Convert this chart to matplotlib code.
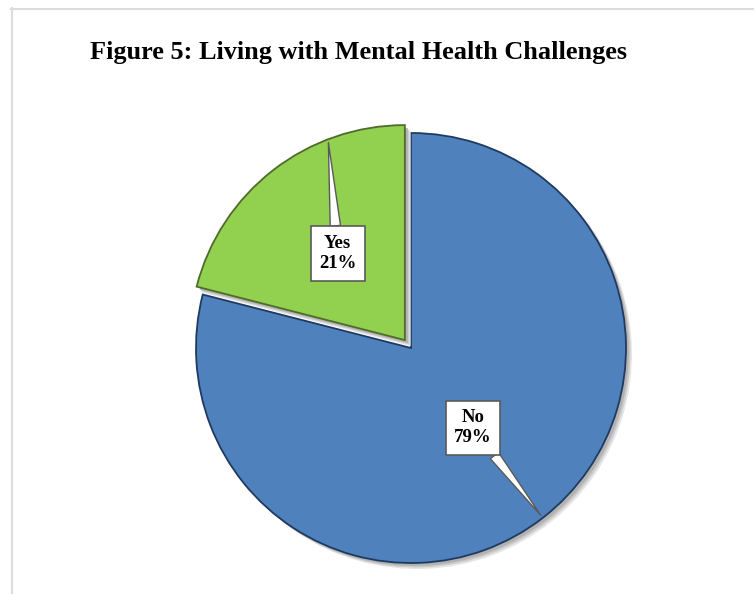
import matplotlib
matplotlib.use('Agg')
import matplotlib.pyplot as plt
import numpy as np
from matplotlib.patches import Wedge
from matplotlib.lines import Line2D

title = "Figure 5: Living with Mental Health Challenges"
categories = ["Yes", "No"]
values = [21, 79]
colors = ["#92d050", "#4f81bd"]
edge_colors = ["#4f6b2a", "#1f3a60"]

W, H = 754, 594
fig = plt.figure(figsize=(W / 100, H / 100), dpi=100)
ax = fig.add_axes([0, 0, 1, 1])

cx, cy, R = 411, H - 348, 215
explode = [10, 0]
wedges, _ = ax.pie(values, colors=colors, startangle=90, counterclock=True,
                   explode=explode, center=(cx, cy), radius=R, frame=True,
                   wedgeprops=dict(linewidth=1.3))
zs = [3, 2]
for w, ec, z in zip(wedges, edge_colors, zs):
    w.set_edgecolor(ec)
    w.set_zorder(z)
    # soft shadow
    for k, (off, col, a) in enumerate([(6, '#e0e0e0', 0.8), (4.5, '#c8c8c8', 0.85), (3, '#b0b0b0', 0.9)]):
        s = Wedge((w.center[0] + off, w.center[1] - off), w.r, w.theta1, w.theta2,
                  facecolor=col, edgecolor='none', alpha=a, zorder=z - 0.6 + 0.1 * k)
        ax.add_patch(s)

ax.set_xlim(0, W)
ax.set_ylim(0, H)
ax.set_aspect('auto')
ax.axis('off')

serif = ['Liberation Serif', 'DejaVu Serif']
label_frac = [0.51, 0.47]
tip_frac = [0.28, 0.5]
for w, cat, v, lf, tf in zip(wedges, categories, values, label_frac, tip_frac):
    tm = np.deg2rad((w.theta1 + w.theta2) / 2)
    tt = np.deg2rad(w.theta1 + tf * (w.theta2 - w.theta1))
    xt = (w.center[0] + lf * w.r * np.cos(tm), w.center[1] + lf * w.r * np.sin(tm))
    xy = (w.center[0] + 0.985 * w.r * np.cos(tt), w.center[1] + 0.985 * w.r * np.sin(tt))
    ax.annotate(f"{cat}\n{v}%", xy=xy, xytext=xt, ha='center', va='center',
                fontsize=13.5, fontweight='bold', family=serif, zorder=6,
                linespacing=1.25,
                bbox=dict(boxstyle='square,pad=0.45', fc='white', ec='#5a5a5a', lw=1.2),
                arrowprops=dict(arrowstyle='wedge,tail_width=0.55,shrink_factor=0.5',
                                fc='white', ec='#5a5a5a', lw=1.0, shrinkA=0, shrinkB=0))

t = fig.text(90 / W, 1 - 59 / H, title, ha='left', va='baseline',
             fontsize=17, fontweight='bold', family=serif)
fig.canvas.draw()
bb = t.get_window_extent()
t.set_fontsize(17 * 538 / bb.width)

fig.add_artist(Line2D([11 / W, 1], [1 - 8.5 / H, 1 - 8.5 / H], transform=fig.transFigure,
                      color='#dcdcdc', lw=1.5))
fig.add_artist(Line2D([11.5 / W, 11.5 / W], [0, 1 - 8 / H], transform=fig.transFigure,
                      color='#dcdcdc', lw=1.5))

fig.savefig('out.png', dpi=100, facecolor='white')
